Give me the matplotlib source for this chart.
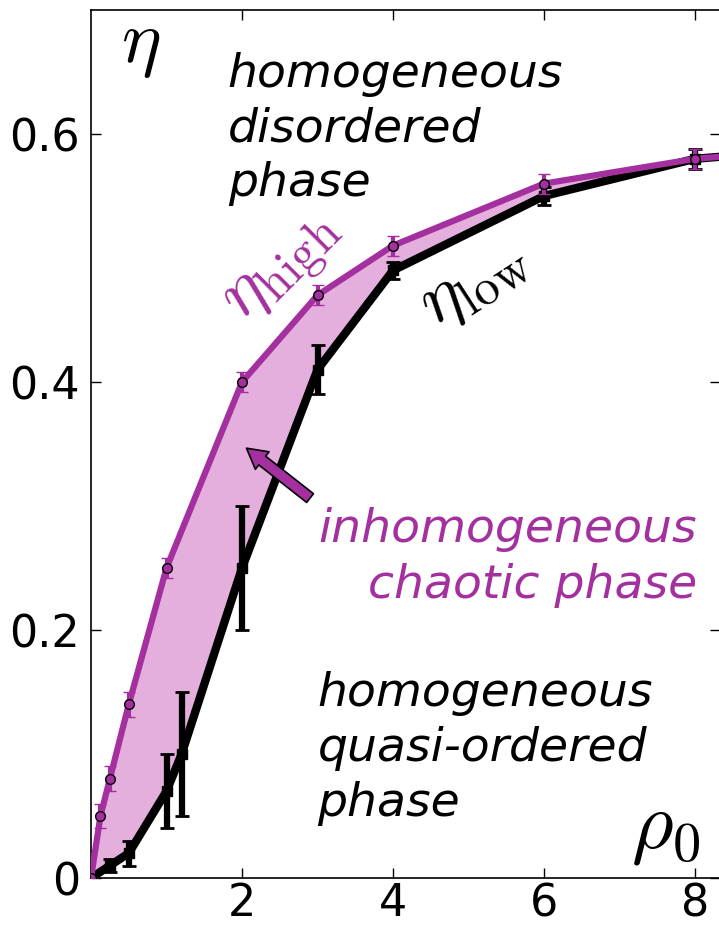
import matplotlib
matplotlib.use("Agg")
import matplotlib.pyplot as plt
import numpy as np

plt.rcParams['mathtext.fontset'] = 'cm'
plt.rcParams['font.family'] = 'DejaVu Sans'

MAG = '#a3309e'
FILL = '#e4afdc'

# upper boundary of the chaotic region
rho_high = [0.0, 0.125, 0.25, 0.5, 1.0, 2.0, 3.0, 4.0, 6.0, 8.0, 10.0]
eta_high = [0.0, 0.05, 0.08, 0.14, 0.25, 0.40, 0.47, 0.51, 0.56, 0.58, 0.59]
err_high = [0.0, 0.01, 0.01, 0.01, 0.008, 0.008, 0.008, 0.008, 0.008, 0.008, 0.008]

# lower boundary
rho_low = [0.0, 0.25, 0.5, 1.0, 1.2, 2.0, 3.0, 4.0, 6.0, 8.0, 10.0]
eta_low = [0.0, 0.01, 0.02, 0.07, 0.10, 0.25, 0.41, 0.49, 0.55, 0.58, 0.59]
err_low = [0.0, 0.005, 0.01, 0.03, 0.05, 0.05, 0.02, 0.007, 0.007, 0.008, 0.008]

xticks = [2, 4, 6, 8]
yticks = [0, 0.2, 0.4, 0.6]
ytick_labels = ['0', '0.2', '0.4', '0.6']

fig = plt.figure(figsize=(7.19, 9.25), dpi=100)
ax = fig.add_axes([91/719, 47/925, 629/719, 868/925])

# shaded region between the two curves
poly_x = np.concatenate([rho_high, rho_low[::-1]])
poly_y = np.concatenate([eta_high, eta_low[::-1]])
ax.fill(poly_x, poly_y, color=FILL, lw=0, zorder=1)

ax.errorbar(rho_low, eta_low, yerr=err_low, color='k', lw=6, elinewidth=4.5,
            capsize=5, capthick=2, marker='s', ms=7, mfc='k', mec='k', zorder=3)
ax.errorbar(rho_high, eta_high, yerr=err_high, color=MAG, lw=4.5, elinewidth=3,
            capsize=4, capthick=2, marker='o', ms=7, mfc=MAG, mec='k', mew=1,
            zorder=4)

ax.set_xlim(0, 8.33)
ax.set_ylim(0, 0.70)
ax.set_xticks(xticks)
ax.set_xticklabels([str(t) for t in xticks])
ax.set_yticks(yticks)
ax.set_yticklabels(ytick_labels)
ax.tick_params(direction='in', length=7, width=1, labelsize=32, top=True,
               right=True)
ax.tick_params(axis='x', pad=3)
ax.tick_params(axis='y', pad=8)
for s in ax.spines.values():
    s.set_linewidth(1.2)

ax.text(0.66, 0.673, r'$\eta$', fontsize=54, ha='center', va='center')
ax.text(7.61, 0.040, r'$\rho_0$', fontsize=58, ha='center', va='center')

txt = dict(fontsize=34, style='italic', va='baseline', linespacing=1.14)
ax.text(1.81, (878 - 88) / 1238, 'homogeneous', ha='left', **txt)
ax.text(1.81, (878 - 143) / 1238, 'disordered', ha='left', **txt)
ax.text(1.81, (878 - 197) / 1238, 'phase', ha='left', **txt)

ax.text(3.0, (878 - 706) / 1238, 'homogeneous', ha='left', **txt)
ax.text(3.0, (878 - 761) / 1238, 'quasi-ordered', ha='left', **txt)
ax.text(3.0, (878 - 816) / 1238, 'phase', ha='left', **txt)

ax.text(8.03, (878 - 543) / 1238, 'inhomogeneous', ha='right', color=MAG, **txt)
ax.text(8.03, (878 - 598) / 1238, 'chaotic phase', ha='right', color=MAG, **txt)

ax.text(2.53, 0.493, r'$\eta_{\rm high}$', fontsize=52, color=MAG, rotation=45,
        ha='center', va='center')
ax.text(5.05, 0.482, r'$\eta_{\rm low}$', fontsize=52, color='k', rotation=33,
        ha='center', va='center')

ax.annotate('', xy=(2.03, 0.348), xytext=(2.93, 0.305),
            arrowprops=dict(arrowstyle='simple,head_length=0.9,head_width=1.0,tail_width=0.5',
                            fc=MAG, ec='k', lw=1.2, mutation_scale=16),
            zorder=5)

fig.savefig('out.png', dpi=100)
